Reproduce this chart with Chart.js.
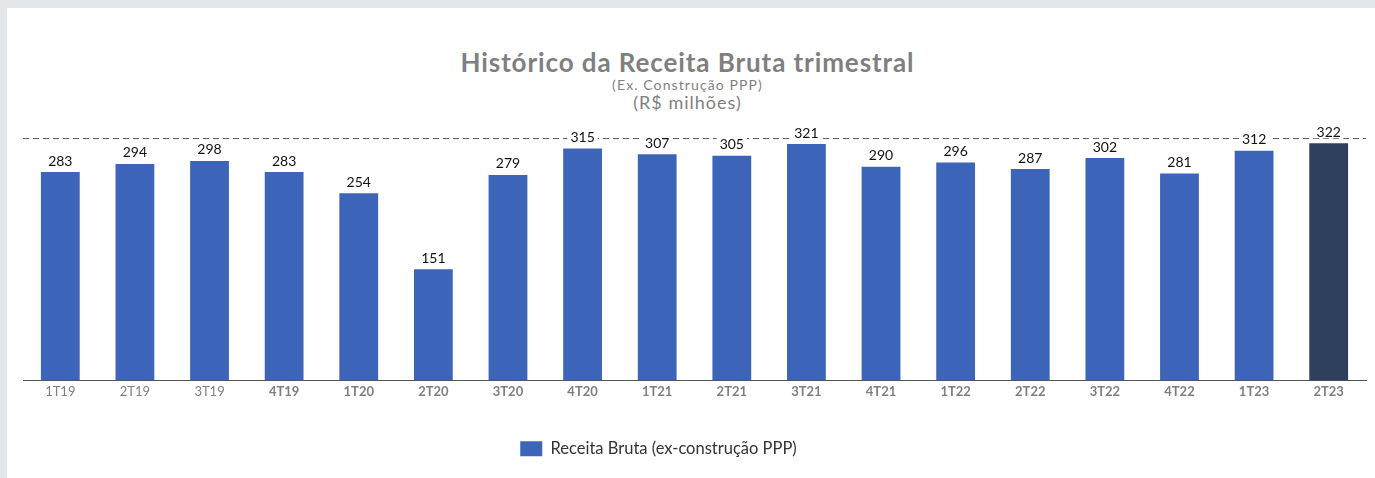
<!DOCTYPE html>
<html lang="pt-BR">
<head>
<meta charset="utf-8">
<script src="https://cdn.jsdelivr.net/npm/chart.js@4.4.1/dist/chart.umd.min.js"></script>
<style>
  html, body { margin: 0; padding: 0; }
  body { width: 1375px; height: 478px; background: #e3e7ea; position: relative; overflow: hidden; font-family: Lato, "Open Sans", sans-serif; }
  #panel { position: absolute; left: 7px; top: 8px; right: 0; bottom: 0; background: #fff; }
  #wrap { position: absolute; left: 0; top: 0; width: 1375px; height: 478px; }
  .title { position: absolute; left: 0; width: 1375px; text-align: center; color: #7f7f7f; }
  #t1 { top: 46px; font-size: 26px; font-weight: bold; letter-spacing: 0.9px; }
  #t2 { top: 76px; font-size: 14px; letter-spacing: 1.1px; }
  #t3 { top: 91px; font-size: 18px; letter-spacing: 1px; }
</style>
</head>
<body>
<div id="panel"></div>
<div class="title" id="t1">Histórico da Receita Bruta trimestral</div>
<div class="title" id="t2">(Ex. Construção PPP)</div>
<div class="title" id="t3">(R$ milhões)</div>
<div id="wrap"><canvas id="chart" width="1375" height="478"></canvas></div>
<script>
const quarters = ["1T19", "2T19", "3T19", "4T19", "1T20", "2T20", "3T20", "4T20", "1T21",
  "2T21", "3T21", "4T21", "1T22", "2T22", "3T22", "4T22", "1T23", "2T23"];
const receita = [283, 294, 298, 283, 254, 151, 279, 315, 307, 305, 321, 290, 296, 287, 302, 281, 312, 322];
const refLine = 329;

const BLUE = "#3c65b9";
const DARK = "#2f405e";

// linha tracejada de referência, passa por trás dos rótulos
const refLinePlugin = {
  id: "refLine",
  beforeDatasetsDraw(chart) {
    const { ctx, chartArea, scales } = chart;
    const y = Math.round(scales.y.getPixelForValue(refLine)) + 0.5;
    ctx.save();
    ctx.strokeStyle = "#5b6370";
    ctx.lineWidth = 1;
    ctx.setLineDash([6, 4]);
    ctx.beginPath();
    ctx.moveTo(chartArea.left, y);
    ctx.lineTo(chartArea.right, y);
    ctx.stroke();
    ctx.restore();
  }
};

const valueLabels = {
  id: "valueLabels",
  afterDatasetsDraw(chart) {
    const { ctx } = chart;
    const meta = chart.getDatasetMeta(0);
    ctx.save();
    ctx.font = "14px Lato, 'Open Sans', sans-serif";
    ctx.textAlign = "center";
    ctx.textBaseline = "bottom";
    meta.data.forEach((bar, i) => {
      const txt = String(receita[i]);
      const w = ctx.measureText(txt).width;
      const y = bar.y - 4;
      ctx.fillStyle = "#fff";
      ctx.fillRect(bar.x - w / 2 - 3, y - 14, w + 6, 13);
      ctx.fillStyle = "#111";
      ctx.fillText(txt, bar.x, y);
    });
    ctx.restore();
  }
};

// a legenda do original fica um pouco à esquerda do centro
const legendShift = {
  id: "legendShift",
  beforeDraw(chart) {
    chart.legend.left -= 36;
    chart.legend.right -= 36;
  }
};

new Chart(document.getElementById("chart"), {
  type: "bar",
  data: {
    labels: quarters,
    datasets: [{
      label: "Receita Bruta (ex-construção PPP)",
      data: receita,
      backgroundColor: receita.map((v, i) => i === receita.length - 1 ? DARK : BLUE),
      barPercentage: 0.52,
      categoryPercentage: 1
    }]
  },
  options: {
    responsive: false,
    animation: false,
    layout: { padding: { left: 23, right: 9, top: 130, bottom: 11 } },
    plugins: {
      tooltip: { enabled: false },
      legend: {
        position: "bottom",
        labels: {
          boxWidth: 22,
          boxHeight: 15,
          padding: 10,
          color: "#333",
          font: { family: "Lato, 'Open Sans', sans-serif", size: 16.5 }
        }
      }
    },
    scales: {
      x: {
        grid: { display: false, drawTicks: false },
        border: { color: "#555", width: 1 },
        ticks: {
          padding: 4,
          color: "#7f7f7f",
          font: (c) => ({ family: "Lato, 'Open Sans', sans-serif", size: 13, weight: c.index < 3 ? "normal" : "bold" })
        },
        afterFit(scale) { scale.height = 50; }
      },
      y: {
        display: false,
        min: 0,
        max: 340
      }
    }
  },
  plugins: [refLinePlugin, valueLabels, legendShift]
});
</script>
</body>
</html>
